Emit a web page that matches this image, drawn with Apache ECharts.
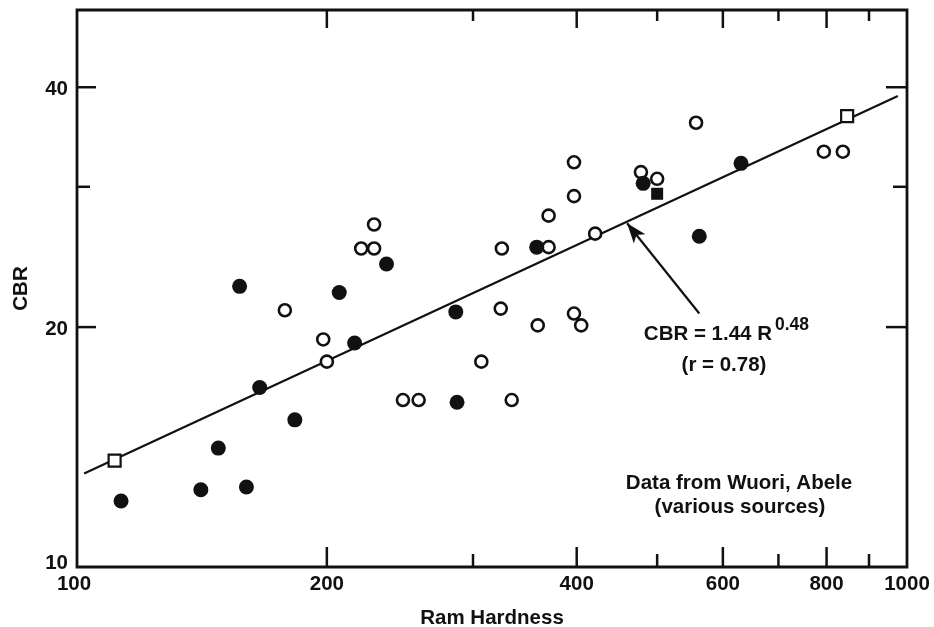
<!DOCTYPE html>
<html><head><meta charset="utf-8">
<script src="https://cdn.jsdelivr.net/npm/echarts@6/dist/echarts.min.js"></script>
<style>html,body{margin:0;padding:0;background:#fff}#c{width:934px;height:627px}</style>
</head><body><div id="c"></div>
<script>
// ---- data (Ram Hardness, CBR) ----
const openCircles = [[178,21.0],[198,19.3],[200,18.1],[220,25.1],[228,25.1],[228,26.9],[247,16.2],[258,16.2],[307,18.1],[324,21.1],[325,25.1],[334,16.2],[359,20.1],[370,25.2],[370,27.6],[397,32.2],[397,29.2],[397,20.8],[405,20.1],[421,26.2],[478,31.3],[500,30.7],[557,36.1],[794,33.2],[837,33.2]];
const filledCircles = [[113,12.1],[141,12.5],[148,14.1],[157,22.5],[160,12.6],[166,16.8],[183,15.3],[207,22.1],[216,19.1],[236,24.0],[286,20.9],[287,16.1],[358,25.2],[481,30.3],[562,26.0],[631,32.1]];
const openSquares = [[111,13.6],[847,36.8]];
const filledSquares = [[500,29.4]];
const fitLine = [[102,13.1],[975,39.0]];
const arrowFrom = [562,20.8];
const arrowTo = [460,27.0];
const xTicks = [200,300,400,500,600,700,800,900];
const xMajor = [200,400,600,800];
const xLabels = [100,200,400,600,800,1000];
const yTicks = [20,30,40];
const yMajor = [20,40];
const yLabels = [10,20,40];
const X_MIN = 100, X_MAX = 1000, Y_MIN = 10, Y_MAX = 50;

const FAM = '"Liberation Sans", Arial, sans-serif';
const FONT = 'bold 20.5px ' + FAM;
const AFONT = 'bold 20.5px ' + FAM;
const INK = '#111';

const chart = echarts.init(document.getElementById('c'), null, {renderer:'canvas'});

function tickLine(x1,y1,x2,y2){
  return {type:'line', shape:{x1,y1,x2,y2}, style:{stroke:INK, lineWidth:2.5}};
}
function txt(x, y, text, align, font){
  return {type:'text', x, y, style:{text, font:font||AFONT, fill:INK, align, verticalAlign:'middle', textAlign:align, textVerticalAlign:'middle'}};
}

chart.setOption({
  animation:false,
  backgroundColor:'#fff',
  grid:{left:77, right:27, top:10, bottom:60, outerBoundsMode:'none', containLabel:false,
        show:true, borderColor:INK, borderWidth:2.8, backgroundColor:'transparent'},
  xAxis:{type:'log', logBase:10, min:X_MIN, max:X_MAX,
    axisLine:{show:false}, axisTick:{show:false}, axisLabel:{show:false}, splitLine:{show:false}, minorTick:{show:false},
    name:'Ram Hardness', nameLocation:'middle', nameGap:41,
    nameTextStyle:{fontFamily:FAM, fontWeight:'bold', fontSize:20.5, color:INK}},
  yAxis:{type:'log', logBase:10, min:Y_MIN, max:Y_MAX,
    axisLine:{show:false}, axisTick:{show:false}, axisLabel:{show:false}, splitLine:{show:false}, minorTick:{show:false},
    name:'CBR', nameLocation:'middle', nameGap:45,
    nameTextStyle:{fontFamily:FAM, fontWeight:'bold', fontSize:20.5, color:INK}},
  graphic:[
    txt(772, 334, 'CBR = 1.44 R', 'right'),
    txt(775, 325, '0.48', 'left', 'bold 17.5px ' + FAM),
    txt(724, 365, '(r = 0.78)', 'center'),
    txt(739, 483, 'Data from Wuori, Abele', 'center'),
    txt(740, 507, '(various sources)', 'center')
  ],
  series:[
    {type:'line', data:fitLine, showSymbol:false, symbol:'none', lineStyle:{color:INK, width:2.2}, z:2, silent:true,
     markLine:{silent:true, symbol:['none','arrow'], symbolSize:[11,20],
       lineStyle:{color:INK, width:2.2, type:'solid'}, label:{show:false},
       data:[[{coord:arrowFrom},{coord:arrowTo}]]}},
    {type:'custom', coordinateSystem:'cartesian2d', silent:true, clip:false, z:3,
     data:xTicks.map(v=>[v, Y_MIN]),
     renderItem(p, api){
       const v = api.value(0);
       const b = api.coord([v, Y_MIN]), t = api.coord([v, Y_MAX]);
       const major = xMajor.indexOf(v) >= 0;
       const lb = major ? 20 : 13, lt = major ? 18 : 11;
       return {type:'group', children:[tickLine(b[0],b[1],b[0],b[1]-lb), tickLine(t[0],t[1],t[0],t[1]+lt)]};
     }},
    {type:'custom', coordinateSystem:'cartesian2d', silent:true, clip:false, z:3,
     data:yTicks.map(v=>[X_MIN, v]),
     renderItem(p, api){
       const v = api.value(1);
       const l = api.coord([X_MIN, v]), r = api.coord([X_MAX, v]);
       const major = yMajor.indexOf(v) >= 0;
       const ll = major ? 19 : 13, lr = major ? 21 : 14;
       return {type:'group', children:[tickLine(l[0],l[1],l[0]+ll,l[1]), tickLine(r[0],r[1],r[0]-lr,r[1])]};
     }},
    {type:'custom', coordinateSystem:'cartesian2d', silent:true, clip:false, z:3,
     data:xLabels.map(v=>[v, Y_MIN]),
     renderItem(p, api){
       const v = api.value(0);
       const b = api.coord([v, Y_MIN]);
       return {type:'text', x:b[0]-(v===X_MIN?3:0), y:b[1]+7, style:{text:String(v), font:FONT, fill:INK, align:'center', verticalAlign:'top', textAlign:'center', textVerticalAlign:'top'}};
     }},
    {type:'custom', coordinateSystem:'cartesian2d', silent:true, clip:false, z:3,
     data:yLabels.map(v=>[X_MIN, v]),
     renderItem(p, api){
       const v = api.value(1);
       const l = api.coord([X_MIN, v]);
       return {type:'text', x:l[0]-9, y:l[1]+(v===Y_MIN?-4:2), style:{text:String(v), font:FONT, fill:INK, align:'right', verticalAlign:'middle', textAlign:'right', textVerticalAlign:'middle'}};
     }},
    {name:'open', type:'scatter', data:openCircles, symbol:'circle', symbolSize:12, z:5,
     itemStyle:{color:'#fff', borderColor:INK, borderWidth:2.6, opacity:1}},
    {name:'filled', type:'scatter', data:filledCircles, symbol:'circle', symbolSize:15, z:5,
     itemStyle:{color:INK, opacity:1}},
    {name:'openSq', type:'scatter', data:openSquares, symbol:'rect', symbolSize:12, z:5,
     itemStyle:{color:'#fff', borderColor:INK, borderWidth:2.2, opacity:1}},
    {name:'filledSq', type:'scatter', data:filledSquares, symbol:'rect', symbolSize:12, z:5,
     itemStyle:{color:INK, opacity:1}}
  ]
});
</script></body></html>
